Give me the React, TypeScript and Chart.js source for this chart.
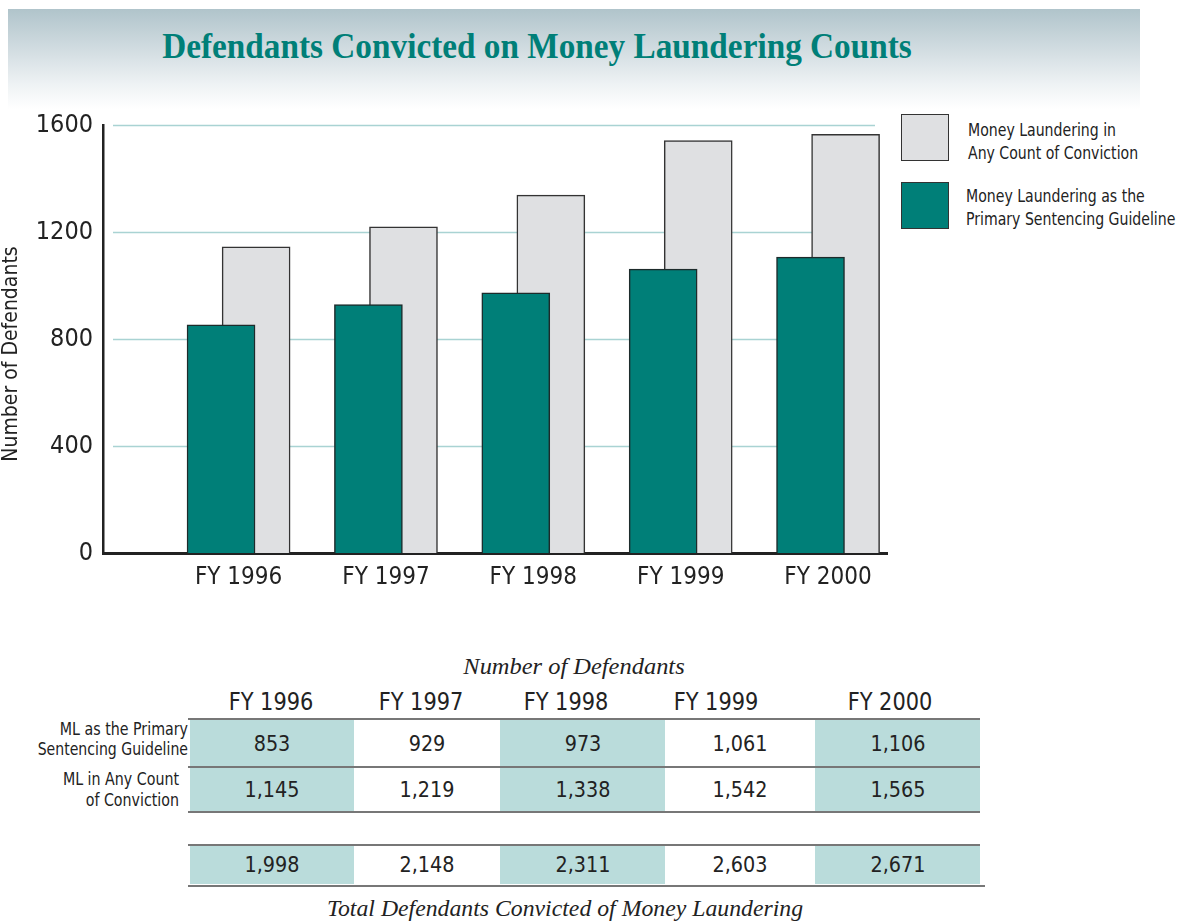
import React, { useEffect, useLayoutEffect, useRef } from "react";
import { Chart, registerables } from "chart.js";

Chart.register(...registerables);

const categories = ["FY 1996", "FY 1997", "FY 1998", "FY 1999", "FY 2000"];
const primaryValues = [853, 929, 973, 1061, 1106];
const anyCountValues = [1145, 1219, 1338, 1542, 1565];
const totalValues = [1998, 2148, 2311, 2603, 2671];
const yTickValues = [0, 400, 800, 1200, 1600];

const TITLE = "Defendants Convicted on Money Laundering Counts";
const Y_TITLE = "Number of Defendants";
const PRIMARY_LABEL = ["Money Laundering as the", "Primary Sentencing Guideline"];
const ANY_LABEL = ["Money Laundering in", "Any Count of Conviction"];
const ROW1_LABEL = ["ML as the Primary", "Sentencing Guideline"];
const ROW2_LABEL = ["ML in Any Count", "of Conviction"];
const TABLE_CAPTION = "Number of Defendants";
const TOTAL_CAPTION = "Total Defendants Convicted of Money Laundering";

const TEAL = "#007f78";
const GRAY = "#dfe0e2";
const CELL_TEAL = "#badcdb";
const NARROW = "'Liberation Sans Narrow','DejaVu Sans Condensed','Roboto',sans-serif";
const SERIF = "'Liberation Serif','DejaVu Serif',serif";
const OFFSET = 0.119;

const fmt = (v: number) => v.toLocaleString("en-US");

type TextProps = {
  x: number;
  y: number;
  align?: "left" | "center" | "right";
  size: number;
  family?: string;
  weight?: string | number;
  italic?: boolean;
  color?: string;
  scale?: number;
  fitWidth?: number;
  children: React.ReactNode;
};

function Txt({ x, y, align = "center", size, family = NARROW, weight = 400, italic = false, color = "#222", scale = 0.9, fitWidth, children }: TextProps) {
  const ref = useRef<HTMLDivElement>(null);
  const tx = align === "center" ? "-50%" : align === "right" ? "-100%" : "0";
  const origin = align === "center" ? "center center" : align === "right" ? "right center" : "left center";
  useLayoutEffect(() => {
    if (fitWidth && ref.current) {
      const w = ref.current.offsetWidth;
      const k = fitWidth / w;
      ref.current.style.transform = `translate(${tx}, -50%) scaleX(${k})`;
    }
  });
  return (
    <div
      ref={ref}
      style={{
        position: "absolute",
        left: x,
        top: y,
        transform: `translate(${tx}, -50%) scaleX(${scale})`,
        transformOrigin: origin,
        whiteSpace: "nowrap",
        fontSize: size,
        fontFamily: family,
        fontWeight: weight as any,
        fontStyle: italic ? "italic" : "normal",
        color,
        lineHeight: 1,
      }}
    >
      {children}
    </div>
  );
}

const gridPlugin = {
  id: "customGrid",
  beforeDatasetsDraw(chart: any) {
    const { ctx, chartArea, scales } = chart;
    ctx.save();
    ctx.strokeStyle = "#a9d3d3";
    ctx.lineWidth = 1.5;
    yTickValues.forEach((v) => {
      if (v === 0) return;
      const y = Math.round(scales.y.getPixelForValue(v)) + 0.5;
      ctx.beginPath();
      ctx.moveTo(chartArea.left + 10, y);
      ctx.lineTo(chartArea.right - 12, y);
      ctx.stroke();
    });
    ctx.restore();
  },
  afterDraw(chart: any) {
    const { ctx, chartArea } = chart;
    ctx.save();
    ctx.translate(12, (chartArea.top + chartArea.bottom) / 2 + 15);
    ctx.rotate(-Math.PI / 2);
    ctx.textAlign = "center";
    ctx.textBaseline = "middle";
    ctx.fillStyle = "#222";
    ctx.font = `21px ${NARROW}`;
    ctx.fillText(Y_TITLE, 0, 0);
    ctx.restore();
  },
};

function BarChart() {
  const canvasRef = useRef<HTMLCanvasElement>(null);
  useEffect(() => {
    if (!canvasRef.current) return;
    const chart = new Chart(canvasRef.current, {
      type: "bar",
      data: {
        datasets: [
          {
            label: PRIMARY_LABEL.join(" "),
            data: primaryValues.map((v, i) => ({ x: i - OFFSET, y: v })),
            backgroundColor: TEAL,
            borderColor: "#1d2b2b",
            borderWidth: 1.5,
            barThickness: 68,
            grouped: false,
          } as any,
          {
            label: ANY_LABEL.join(" "),
            data: anyCountValues.map((v, i) => ({ x: i + OFFSET, y: v })),
            backgroundColor: GRAY,
            borderColor: "#333",
            borderWidth: 1.5,
            barThickness: 68,
            grouped: false,
          } as any,
        ],
      },
      options: {
        animation: false,
        responsive: false,
        layout: { padding: { top: 20, right: 3, left: 0, bottom: 0 } },
        plugins: { legend: { display: false }, tooltip: { enabled: false } },
        scales: {
          x: {
            type: "linear",
            offset: false,
            min: -0.92,
            max: 4.4,
            afterBuildTicks: (scale: any) => {
              scale.ticks = categories.map((_, i) => ({ value: i }));
            },
            afterFit: (scale: any) => {
              scale.height = 47;
            },
            ticks: {
              callback: (v: any) => categories[v as number] ?? "",
              font: { family: NARROW, size: 24 },
              color: "#222",
              padding: 10,
              maxRotation: 0,
              autoSkip: false,
            },
            grid: { display: false, drawTicks: false },
            border: { display: true, color: "#222", width: 3 },
          },
          y: {
            min: 0,
            max: 1600,
            afterBuildTicks: (scale: any) => {
              scale.ticks = yTickValues.map((v) => ({ value: v }));
            },
            afterFit: (scale: any) => {
              scale.width = 103;
            },
            ticks: {
              callback: (v: any) => String(v),
              font: { family: NARROW, size: 25 },
              color: "#222",
              padding: 10,
            },
            grid: { display: false, drawTicks: false },
            border: { display: true, color: "#222", width: 2.5 },
          },
        },
      } as any,
      plugins: [gridPlugin],
    });
    return () => chart.destroy();
  }, []);
  return <canvas ref={canvasRef} width={890} height={500} style={{ position: "absolute", left: 0, top: 100 }} />;
}

const colEdges = [190, 354, 500, 665, 815, 980];
const headerCenters = [271, 421, 566, 716, 890];

function Table() {
  const cells: React.ReactNode[] = [];
  const rows = [
    { top: 720, h: 47, values: primaryValues },
    { top: 768, h: 44, values: anyCountValues },
    { top: 846, h: 38, values: totalValues },
  ];
  rows.forEach((r, ri) => {
    r.values.forEach((v, ci) => {
      const left = colEdges[ci];
      const w = colEdges[ci + 1] - left;
      cells.push(
        <div
          key={`bg${ri}-${ci}`}
          style={{ position: "absolute", left, top: r.top, width: w, height: r.h, background: ci % 2 === 0 ? CELL_TEAL : "transparent" }}
        />
      );
      cells.push(
        <Txt key={`t${ri}-${ci}`} x={left + w / 2} y={r.top + r.h / 2} size={22} scale={0.97}>
          {fmt(v)}
        </Txt>
      );
    });
  });
  const line = (key: string, top: number, left: number, right: number) => (
    <div key={key} style={{ position: "absolute", left, top, width: right - left, height: 2, background: "#777" }} />
  );
  return (
    <>
      {cells}
      {line("l1", 718, 188, 980)}
      {line("l2", 766, 188, 980)}
      {line("l3", 811, 188, 980)}
      {line("l4", 844, 188, 980)}
      {line("l5", 885, 188, 985)}
      <Txt x={574} y={666} size={24} family={SERIF} italic fitWidth={221}>
        {TABLE_CAPTION}
      </Txt>
      {categories.map((c, i) => (
        <Txt key={c} x={headerCenters[i]} y={701} size={25} scale={0.93}>
          {c}
        </Txt>
      ))}
      <Txt x={188} y={729} size={17} align="right" scale={0.93}>{ROW1_LABEL[0]}</Txt>
      <Txt x={188} y={749} size={17} align="right" scale={0.92}>{ROW1_LABEL[1]}</Txt>
      <Txt x={179} y={779} size={17} align="right" scale={0.93}>{ROW2_LABEL[0]}</Txt>
      <Txt x={179} y={800} size={17} align="right" scale={0.93}>{ROW2_LABEL[1]}</Txt>
      <Txt x={565} y={908} size={24} family={SERIF} italic fitWidth={476}>
        {TOTAL_CAPTION}
      </Txt>
    </>
  );
}

function Legend() {
  return (
    <>
      <div style={{ position: "absolute", left: 901, top: 114, width: 46, height: 45, background: GRAY, border: "1.5px solid #333" }} />
      <div style={{ position: "absolute", left: 901, top: 182, width: 46, height: 45, background: TEAL, border: "1.5px solid #333" }} />
      <Txt x={968} y={130} size={18} align="left" scale={0.87}>{ANY_LABEL[0]}</Txt>
      <Txt x={968} y={153} size={18} align="left" scale={0.87}>{ANY_LABEL[1]}</Txt>
      <Txt x={966} y={196} size={18} align="left" scale={0.87}>{PRIMARY_LABEL[0]}</Txt>
      <Txt x={966} y={219} size={18} align="left" scale={0.87}>{PRIMARY_LABEL[1]}</Txt>
    </>
  );
}

export default function App() {
  return (
    <div style={{ position: "absolute", left: 0, top: 0, width: 1182, height: 923, background: "#fff", overflow: "hidden" }}>
      <div
        style={{
          position: "absolute",
          left: 8,
          top: 9,
          width: 1132,
          height: 100,
          background: "linear-gradient(to bottom, #b0c4cb 0%, #cdd9de 35%, #eef2f4 75%, #ffffff 100%)",
        }}
      />
      <Txt x={537} y={46} size={35} family={SERIF} weight={700} color={TEAL} fitWidth={750}>
        {TITLE}
      </Txt>
      <BarChart />
      <Legend />
      <Table />
    </div>
  );
}
